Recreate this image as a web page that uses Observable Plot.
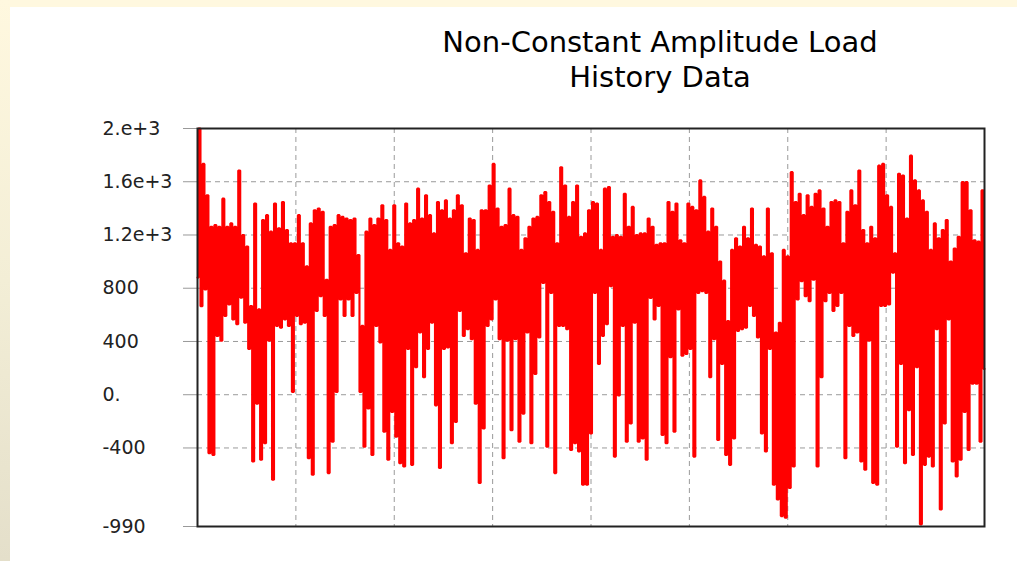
<!DOCTYPE html>
<html>
<head>
<meta charset="utf-8">
<script src="https://cdn.jsdelivr.net/npm/d3@7"></script>
<script src="https://cdn.jsdelivr.net/npm/@observablehq/plot@0.6"></script>
<style>
  html, body { margin: 0; padding: 0; }
  body { width: 1017px; height: 561px; overflow: hidden; position: relative; background: #fff8df; font-family: "DejaVu Sans", sans-serif; }
  #leftstrip { position: absolute; left: 0; top: 0; width: 10px; height: 561px; background: linear-gradient(#fff8df, #f3eed6 50%, #e4dfca); }
  #panel { position: absolute; left: 10px; top: 7px; right: 0; bottom: 0; background: #ffffff; }
  #title { position: absolute; left: 360px; width: 600px; top: 25px; text-align: center; font-size: 29px; line-height: 35px; color: #000; }
  #chart { position: absolute; left: 0; top: 0; }
</style>
</head>
<body>
<div id="leftstrip"></div>
<div id="panel"></div>
<div id="title">Non-Constant Amplitude Load<br>History Data</div>
<div id="chart"></div>
<script>
const seg1 = [880, 2000,665, 1734,790, 1498,-440, 1262,-452, 1275,442, 1262,405, 1473,591, 1262,678, 1287,566, 1262,529, 1684,728, 1200,541, 1113,343, 666,-502, 1436,-67, 641,-489, 1312,-365, 1349,405, 1225,-638, 1436,517, 1250,504, 1448,566, 1237,517, 1138,20];
const seg2 = [1138,591, 1349,529, 1138,541, 964,-477, 1287,-601, 1386,629, 1399,740, 1374,591, 864,-589, 1262,-353, 1275,20, 1349,715, 1336,591, 1324,715, 1312,591, 1324,765, 1050,20, 517,-390, 1225,-104, 1324,-452, 1275,517, 1324,392, 1423,-278, 1312,-489];
const seg3 = [1088,-129, 1423,-315, 1138,-514, 1113,-539, 1436,343, 1287,-527, 1312,206, 1548,467, 1324,131, 1498,343, 1349,541, 1212,-80, 1448,-551, 1386,343, 1460,355, 1324,-365, 1386,-204, 1498,629, 1423,442, 1063,492, 1324,417, 1312,-67, 1088,-663, 1386,-253];
const seg4 = [1386,516, 1572,566, 1734,715, 1399,417, 1262,-477, 1275,405, 1548,-266, 1349,417, 1337,-353, 1088,-142, 1175,467, 1262,-365, 1324,156, 1336,430, 1498,839, 1523,-390, 1448,765, 1374,-589, 1138,517, 1709,517, 1572,492, 1336,-415, 1448,-365, 1572,-427, 1187,-676];
const seg5 = [1212,-676, 1386,-291, 1448,765, 1436,231, 1088,442, 1548,529, 1560,815, 1187,-465, 1200,-5, 1187,517, 1510,-353, 1262,-216, 1411,541, 1200,-353, 1212,-328, 1212,-489, 1324,727, 1262,566, 1126,666, 1138,-303, 1138,-365, 1448,281, 1374,-278, 1436,641, 1160,293];
const seg6 = [1138,306, 1436,343, 1411,-465, 1386,765, 1610,777, 1486,765, 1225,131, 1399,417, 1262,-340, 1001,231, 857,-452, 554,-527, 1088,-328, 1175,479, 1113,492, 1262,504, 1175,666, 1399,591, 1126,430, 1113,-291, 1039,-427, 1399,343, 1063,-676, 467,-787, 541,-912];
const seg7 = [1088,-924, 1039,-700, 1672,-539, 1448,715, 1510,852, 1349,740, 1498,703, 1411,864, 1510,-539, 1535,131, 1399,703, 1262,765, 1448,629, 1460,666, 1448,765, 1138,-477, 1374,517, 1535,442, 1423,467, 1684,-502, 1237,-564, 1138,405, 1262,-663, 1175,-676, 1721,666];
const seg8 = [1734,666, 1498,678, 1411,916, 1063,-390, 1660,231, 1647,-514, 1324,-117, 1796,-452, 1610,206, 1535,-974, 1460,-527, 1374,-465, 1088,-539, 1287,492, 1175,-862, 1237,-216, 1312,566, 1001,-502, 1099,-614, 1187,-489, 1597,-129, 1597,-415, 1386,82, 1160,82, 1150,-353, 1535,194];

const yTicks = [2000, 1600, 1200, 800, 400, 0, -400, -990];
const yTickLabels = ["2.e+3", "1.6e+3", "1.2e+3", "800", "400", "0.", "-400", "-990"];
const yDomain = [-990, 2000];
const xGridCount = 8;

const load = [...seg1, ...seg2, ...seg3, ...seg4, ...seg5, ...seg6, ...seg7, ...seg8];
const N = load.length;
const rows = load.map((v, i) => ({i, v}));
const xGrid = d3.range(1, xGridCount).map(k => k * (N - 1) / xGridCount);

const chart = Plot.plot({
  width: 1017,
  height: 561,
  marginTop: 128,
  marginBottom: 35,
  marginLeft: 197,
  marginRight: 33,
  style: {background: "transparent", fontFamily: "DejaVu Sans, sans-serif", fontSize: "19px", color: "#222"},
  x: {domain: [0, N - 1], axis: null},
  y: {domain: yDomain, axis: null},
  marks: [
    Plot.gridY(yTicks.slice(1, -1), {stroke: "#9a9a9a", strokeOpacity: 1, strokeDasharray: "5,4"}),
    Plot.gridX(xGrid, {stroke: "#9a9a9a", strokeOpacity: 1, strokeDasharray: "5,4"}),
    Plot.line(rows, {x: "i", y: "v", stroke: "#ff0000", strokeWidth: 2.1, strokeLinejoin: "miter", curve: "step"}),
    Plot.axisY(yTicks, {
      anchor: "left",
      label: null,
      tickSize: 14,
      tickPadding: 81,
      textAnchor: "start",
      stroke: "#999",
      fill: "#222",
      fontSize: 19,
      tickFormat: (d) => yTickLabels[yTicks.indexOf(d)]
    }),
    Plot.frame({stroke: "#222", strokeWidth: 2})
  ]
});
document.getElementById("chart").appendChild(chart);
</script>
</body>
</html>
